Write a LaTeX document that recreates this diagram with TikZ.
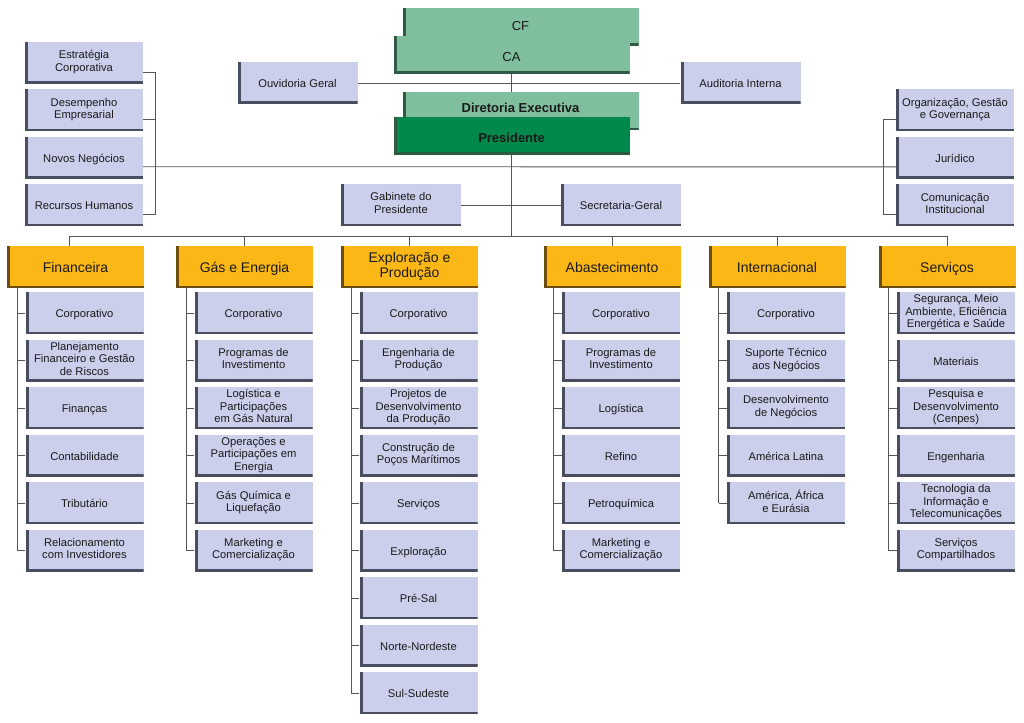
\documentclass[tikz,border=0pt]{standalone}
\usepackage{fontspec}
\setmainfont{Liberation Sans}
\usetikzlibrary{calc}

\definecolor{lav}{HTML}{CBCFEC}
\definecolor{lavedge}{HTML}{4A4C60}
\definecolor{gold}{HTML}{FBB715}
\definecolor{goldedge}{HTML}{6B4E0E}
\definecolor{mint}{HTML}{80BF9E}
\definecolor{mintedge}{HTML}{2F5A45}
\definecolor{pine}{HTML}{00894B}
\definecolor{wirec}{HTML}{555555}
\definecolor{ink}{HTML}{1A1A1A}

\newcommand{\boxstrut}{\rule[-3.75pt]{0pt}{16.5pt}}
\newcommand{\deptstrut}{\rule[-4.5pt]{0pt}{19pt}}

\tikzset{
  bevel/.style={path picture={
      \fill[#1] (path picture bounding box.south west) rectangle ([xshift=3pt]path picture bounding box.north west);
      \fill[#1] (path picture bounding box.south west) rectangle ([yshift=2.5pt]path picture bounding box.south east);}},
  orgbox/.style={rectangle, fill=lav, bevel=lavedge, minimum width=118pt, minimum height=42pt,
      inner xsep=1pt, inner ysep=0pt, align=center, text=ink, font=\fontsize{11.2}{12.5}\selectfont,
      execute at begin node=\boxstrut, execute at end node=\boxstrut},
  dept/.style={orgbox, fill=gold, bevel=goldedge, minimum width=137pt, font=\fontsize{14}{15}\selectfont,
      execute at begin node=\deptstrut, execute at end node=\deptstrut},
  board/.style={orgbox, fill=mint, bevel=mintedge, minimum width=236pt, minimum height=38pt,
      font=\fontsize{13}{14}\selectfont, execute at begin node={}, execute at end node={},
      text height=14pt, text depth=0pt},
  conn/.style={draw=wirec, line width=0.8pt},
}

\begin{document}
\begin{tikzpicture}[x=1pt,y=-1pt]
\useasboundingbox (0,0) rectangle (1024,722);

% conselhos e presidencia
\node[board, text height=11pt, text depth=4pt] (cf) at (520.5,27) {CF};
\node[board] (ca) at (511.5,55) {CA};
\node[orgbox, minimum width=120pt] (ouv) at (297.5,83) {Ouvidoria Geral};
\node[orgbox, minimum width=120pt] (aud) at (740.5,83) {Auditoria Interna};
\node[board, font=\fontsize{13}{14}\selectfont\bfseries, text height=11pt, text depth=8pt] (dir) at (520.5,111.5) {Diretoria Executiva};
\node[board, fill=pine, font=\fontsize{13}{14}\selectfont\bfseries] (pres) at (511.5,136) {Presidente};
\draw[conn] (ouv) -- (aud);
\draw[conn] (ca.south) -- (ca.south |- dir.north);

% assessorias laterais
\foreach \txt [count=\r] in {{Estratégia\\Corporativa},{Desempenho\\Empresarial},Novos Negócios,Recursos Humanos}
  \node[orgbox] (lft\r) at (84,{15.6+47.4*\r}) {\txt};
\foreach \txt [count=\r] in {{Organização, Gestão\\e Governança},Jurídico,{Comunicação\\Institucional}}
  \node[orgbox] (rgt\r) at (955,{63.1+47.4*\r}) {\txt};
\draw[conn] ([yshift=-9pt]lft1.east) -- ++(12,0) |- ([yshift=-9pt]lft4.east);
\draw[conn] ([yshift=-9pt]lft2.east) -- ++(12,0);
\draw[conn] ([yshift=-9pt]rgt1.west) -- ++(-12,0) |- ([yshift=-9pt]rgt3.west);
\draw[conn] ([yshift=-9pt]lft3.east) -- ([yshift=-9pt]rgt2.west);

\node[orgbox, minimum width=120pt] (gab) at (401,205) {Gabinete do\\Presidente};
\node[orgbox, minimum width=120pt] (sec) at (621,205) {Secretaria-Geral};
\draw[conn] (gab) -- (sec);

% diretorias
\node[dept] (fin) at (75.5,267) {Financeira};
\node[dept] (gas) at (244.5,267) {Gás e Energia};
\node[dept] (exp) at (409.5,267) {Exploração e\\Produção};
\node[dept] (aba) at (612,267) {Abastecimento};
\node[dept] (int) at (777,267) {Internacional};
\node[dept] (ser) at (947,267) {Serviços};

\coordinate (busL) at (69,236);
\coordinate (busR) at (947,236);
\draw[conn] (busL) -- (busR);
\draw[conn] (pres.south) -- (pres.south |- busL);
\draw[conn] (busL) -- (busL |- fin.north);
\foreach \d in {gas,exp,aba,int,ser}
  \draw[conn] (\d.north |- busL) -- (\d.north);

\foreach \txt [count=\r] in {Corporativo,{Planejamento\\Financeiro e Gestão\\de Riscos},Finanças,Contabilidade,Tributário,{Relacionamento\\com Investidores}}{
  \node[orgbox] (fin\r) at (84.5,{265.5+47.5*\r}) {\txt};
  \draw[conn] (fin\r.west) -- ++(-8,0);
}
\draw[conn] ([xshift=-8pt]fin1.west |- fin.south) -- ([xshift=-8pt]fin6.west);

\foreach \txt [count=\r] in {Corporativo,{Programas de\\Investimento},{Logística e\\Participações\\em Gás Natural},{Operações e\\Participações em\\Energia},{Gás Química e\\Liquefação},{Marketing e\\Comercialização}}{
  \node[orgbox] (gas\r) at (253.5,{265.5+47.5*\r}) {\txt};
  \draw[conn] (gas\r.west) -- ++(-8,0);
}
\draw[conn] ([xshift=-8pt]gas1.west |- gas.south) -- ([xshift=-8pt]gas6.west);

\foreach \txt [count=\r] in {Corporativo,{Engenharia de\\Produção},{Projetos de\\Desenvolvimento\\da Produção},{Construção de\\Poços Marítimos},Serviços,Exploração,Pré-Sal,Norte-Nordeste,Sul-Sudeste}{
  \node[orgbox] (exp\r) at (418.5,{265.5+47.5*\r}) {\txt};
  \draw[conn] (exp\r.west) -- ++(-8,0);
}
\draw[conn] ([xshift=-8pt]exp1.west |- exp.south) -- ([xshift=-8pt]exp9.west);

\foreach \txt [count=\r] in {Corporativo,{Programas de\\Investimento},Logística,Refino,Petroquímica,{Marketing e\\Comercialização}}{
  \node[orgbox] (aba\r) at (621,{265.5+47.5*\r}) {\txt};
  \draw[conn] (aba\r.west) -- ++(-8,0);
}
\draw[conn] ([xshift=-8pt]aba1.west |- aba.south) -- ([xshift=-8pt]aba6.west);

\foreach \txt [count=\r] in {Corporativo,{Suporte Técnico\\aos Negócios},{Desenvolvimento\\de Negócios},América Latina,{América, África\\e Eurásia}}{
  \node[orgbox] (int\r) at (786,{265.5+47.5*\r}) {\txt};
  \draw[conn] (int\r.west) -- ++(-8,0);
}
\draw[conn] ([xshift=-8pt]int1.west |- int.south) -- ([xshift=-8pt]int5.west);

\foreach \txt [count=\r] in {{Segurança, Meio\\Ambiente, Eficiência\\Energética e Saúde},Materiais,{Pesquisa e\\Desenvolvimento\\(Cenpes)},Engenharia,{Tecnologia da\\Informação e\\Telecomunicações},{Serviços\\Compartilhados}}{
  \node[orgbox] (ser\r) at (956,{265.5+47.5*\r}) {\txt};
  \draw[conn] (ser\r.west) -- ++(-8,0);
}
\draw[conn] ([xshift=-8pt]ser1.west |- ser.south) -- ([xshift=-8pt]ser6.west);
\end{tikzpicture}
\end{document}
